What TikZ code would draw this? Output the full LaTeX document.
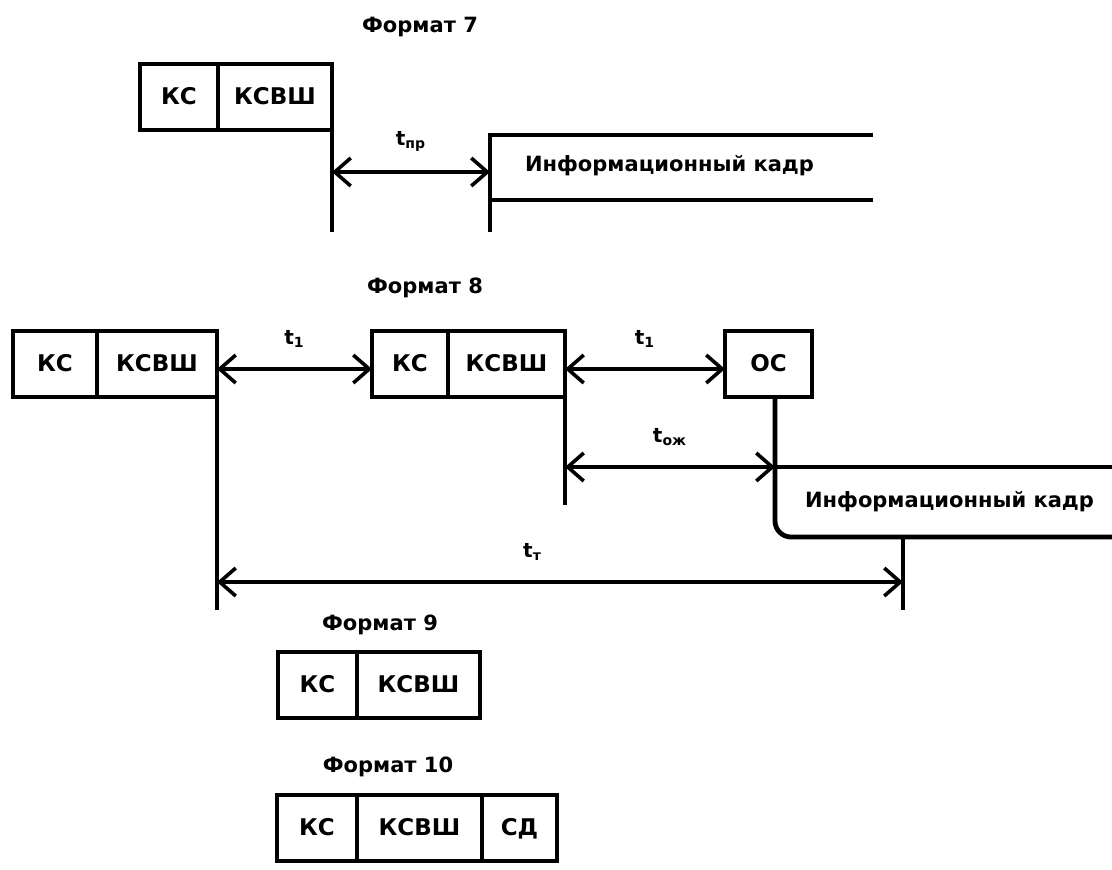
\documentclass[tikz,border=0pt]{standalone}
\usepackage{fontspec}
\setmainfont{DejaVu Sans}
\usetikzlibrary{arrows.meta}

\tikzset{
  cell/.style={draw, line width=2.4pt, minimum height=33pt, inner sep=0pt, outer sep=0pt,
    text height=1.6ex, text depth=0.3ex,
    anchor=north west, font=\fontsize{11.5}{13}\selectfont\bfseries},
  wire/.style={line width=2.4pt},
  span/.style={line width=2.4pt, {Straight Barb[length=8pt,width=14pt,line width=1.8pt]}-{Straight Barb[length=8pt,width=14pt,line width=1.8pt]}},
  title/.style={font=\fontsize{10.5}{12}\selectfont\bfseries},
  lbl/.style={font=\fontsize{10}{12}\selectfont\bfseries},
  frametext/.style={anchor=west, font=\fontsize{10.5}{12}\selectfont\bfseries}
}

\begin{document}
\begin{tikzpicture}[x=0.5pt,y=-0.5pt]
	\useasboundingbox (0,0) rectangle (1112,869);

	% Format 7
	\node[title] (f7) at (420,27) {Формат 7};
	\node[cell, minimum width=39pt] (ks7) at (140,64) {КС};
	\node[cell, minimum width=57pt] (ksvsh7) at (ks7.north east) {КСВШ};
	\coordinate (a7) at (332,232);
	\coordinate (p7a) at (332,172);
	\coordinate (p7b) at (490,172);
	\coordinate (i7tl) at (490,135);
	\coordinate (i7tr) at (873,135);
	\coordinate (i7bl) at (490,200);
	\coordinate (i7br) at (873,200);
	\coordinate (b7) at (490,232);
	\draw[wire] (ksvsh7.south east) -- (ksvsh7.south east |- a7);
	\draw[wire] (i7tr) -- (i7tl) -- (b7);
	\draw[wire] (i7bl) -- (i7br);
	\draw[span] (p7a) -- node[lbl, above=6pt] (tpr) {t\textsubscript{пр}} (p7b);
	\node[frametext] (info7) at (518,166) {Информационный кадр};

	% Format 8
	\node[title] (f8) at (425,288) {Формат 8};
	\node[cell, minimum width=42pt] (ks8a) at (13,331) {КС};
	\node[cell, minimum width=60pt] (ksvsh8a) at (ks8a.north east) {КСВШ};
	\node[cell, minimum width=38pt] (ks8b) at (372,331) {КС};
	\node[cell, minimum width=58.5pt] (ksvsh8b) at (ks8b.north east) {КСВШ};
	\node[cell, minimum width=43.5pt] (os8) at (725,331) {ОС};
	\coordinate (a8) at (217,610);
	\coordinate (b8) at (565,505);
	\coordinate (c8) at (775,467);
	\coordinate (i8tr) at (1112,467);
	\coordinate (i8bl) at (775,537);
	\coordinate (i8br) at (1112,537);
	\coordinate (d8top) at (903,537);
	\coordinate (d8) at (903,610);
	\coordinate (q8a) at (217,369);
	\coordinate (q8b) at (565,369);
	\coordinate (q8c) at (565,467);
	\coordinate (q8d) at (217,582);
	\coordinate (q8e) at (903,582);
	\draw[wire] (ksvsh8a.south east) -- (ksvsh8a.south east |- a8);
	\draw[wire] (ksvsh8b.south east) -- (ksvsh8b.south east |- b8);
	\draw[wire, rounded corners=8pt] (c8 |- os8.south) -- (i8bl) -- (i8br);
	\draw[wire] (c8) -- (i8tr);
	\draw[wire] (d8top) -- (d8);
	\draw[span] (q8a) -- node[lbl, above=6pt] (t1a) {t\textsubscript{1}} (ks8b.west |- q8a);
	\draw[span] (q8b) -- node[lbl, above=6pt] (t1b) {t\textsubscript{1}} (os8.west |- q8b);
	\draw[span] (q8c) -- node[lbl, above=6pt] (tozh) {t\textsubscript{ож}} (c8);
	\draw[span] (q8d) -- node[lbl, pos=0.46, above=6pt] (tt) {t\textsubscript{т}} (q8e);
	\node[frametext] (info8) at (798,502) {Информационный кадр};

	% Format 9
	\node[title] (f9) at (380,625) {Формат 9};
	\node[cell, minimum width=39.5pt] (ks9) at (278,652) {КС};
	\node[cell, minimum width=61.5pt] (ksvsh9) at (ks9.north east) {КСВШ};

	% Format 10
	\node[title] (f10) at (388,767) {Формат 10};
	\node[cell, minimum width=40pt] (ks10) at (277,795) {КС};
	\node[cell, minimum width=62.5pt] (ksvsh10) at (ks10.north east) {КСВШ};
	\node[cell, minimum width=37.5pt] (sd10) at (ksvsh10.north east) {СД};
\end{tikzpicture}
\end{document}
